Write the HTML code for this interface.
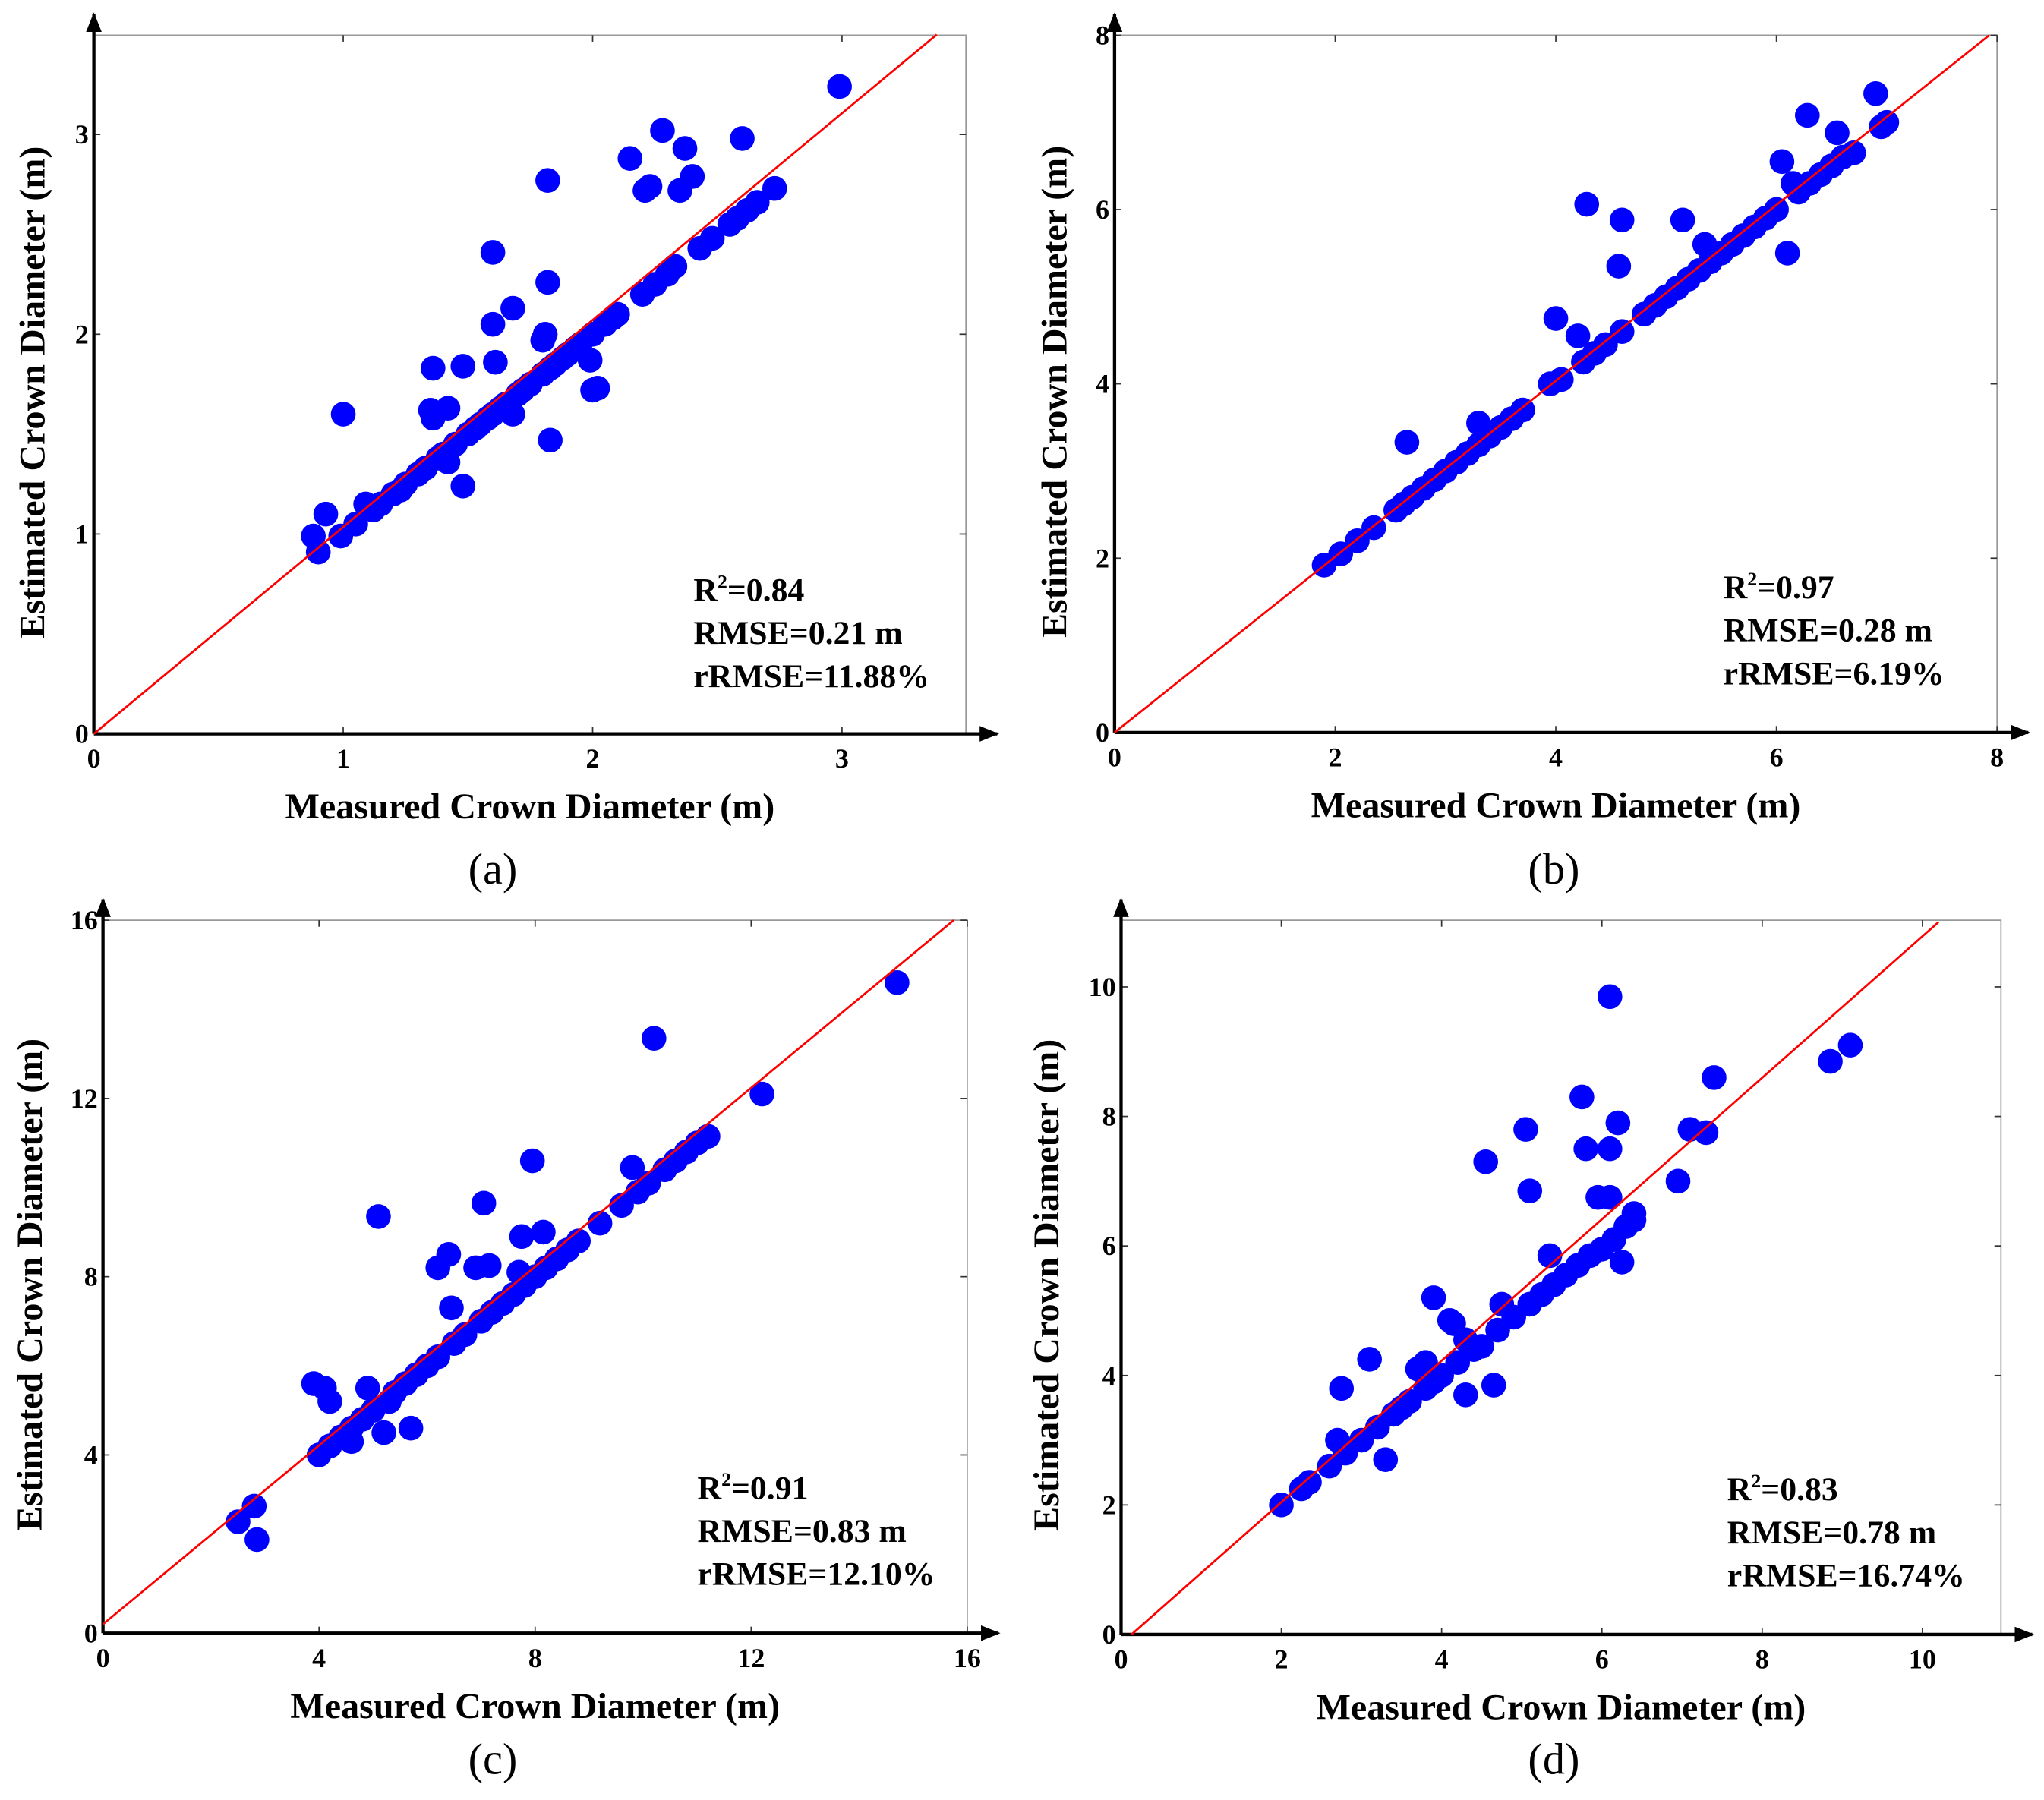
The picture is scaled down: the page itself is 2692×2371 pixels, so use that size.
<!DOCTYPE html>
<html><head><meta charset="utf-8">
<style>
html,body{margin:0;padding:0;background:#fff;}
svg{display:block;}
text{font-family:"Liberation Serif",serif;}
</style></head>
<body>
<svg id="fig" width="2692" height="2371" viewBox="0 0 1568 1381" preserveAspectRatio="none" xmlns="http://www.w3.org/2000/svg">
<defs>
<marker id="arr" viewBox="0 0 10 10" refX="9" refY="5" markerWidth="6" markerHeight="6" orient="auto"><path d="M0,1 L10,5 L0,9 z" fill="#000"/></marker>
</defs>
</svg>
<script>
// Panel (a)
const aX=[0.88,0.9,0.93,0.99,1.0,1.05,1.09,1.12,1.15,1.2,1.23,1.25,1.3,1.33,1.35,1.36,1.36,1.38,1.4,1.42,1.42,1.45,1.48,1.48,1.5,1.53,1.55,1.58,1.6,1.6,1.6,1.61,1.63,1.65,1.68,1.68,1.7,1.72,1.75,1.8,1.81,1.82,1.82,1.83,1.8,1.83,1.85,1.88,1.9,1.93,1.95,2.0,1.99,2.0,2.02,2.05,2.08,2.1,2.15,2.2,2.21,2.23,2.25,2.28,2.3,2.33,2.35,2.37,2.4,2.43,2.48,2.55,2.58,2.6,2.62,2.66,2.73,2.99];
const aY=[0.99,0.91,1.1,0.99,1.6,1.05,1.15,1.12,1.15,1.2,1.22,1.25,1.3,1.33,1.62,1.58,1.83,1.38,1.4,1.36,1.63,1.45,1.84,1.24,1.5,1.53,1.55,1.58,1.6,2.41,2.05,1.86,1.63,1.65,2.13,1.6,1.7,1.72,1.75,1.97,2.0,2.26,2.77,1.47,1.8,1.83,1.85,1.88,1.9,1.93,1.95,2.0,1.87,1.72,1.73,2.05,2.08,2.1,2.88,2.2,2.72,2.74,2.25,3.02,2.3,2.34,2.72,2.93,2.79,2.43,2.48,2.55,2.58,2.98,2.62,2.66,2.73,3.24];
// Panel (b)
const bX=[1.9,2.05,2.2,2.35,2.55,2.62,2.65,2.7,2.8,2.9,3.0,3.1,3.2,3.3,3.3,3.4,3.5,3.6,3.7,3.95,4.0,4.05,4.2,4.25,4.28,4.35,4.45,4.57,4.6,4.6,4.8,4.9,5.0,5.1,5.15,5.2,5.3,5.35,5.4,5.5,5.6,5.7,5.8,5.9,6.0,6.05,6.1,6.15,6.2,6.28,6.3,6.4,6.5,6.55,6.6,6.7,6.9,6.95,7.0];
const bY=[1.92,2.05,2.2,2.35,2.55,2.62,3.33,2.7,2.8,2.9,3.0,3.1,3.2,3.55,3.3,3.4,3.5,3.6,3.7,4.0,4.75,4.05,4.55,4.25,6.06,4.35,4.45,5.35,5.88,4.6,4.8,4.9,5.0,5.1,5.88,5.2,5.3,5.6,5.4,5.5,5.6,5.7,5.8,5.9,6.0,6.55,5.5,6.3,6.2,7.08,6.3,6.4,6.5,6.88,6.6,6.65,7.33,6.95,7.0];
// Panel (c)
const cX=[2.5,2.8,2.85,3.9,4.0,4.1,4.2,4.2,4.4,4.6,4.6,4.8,4.9,5.0,5.1,5.2,5.3,5.4,5.6,5.7,5.8,6.0,6.2,6.2,6.4,6.45,6.5,6.7,6.9,7.0,7.05,7.15,7.2,7.4,7.6,7.75,7.7,7.8,7.95,8.0,8.15,8.2,8.4,8.6,8.8,9.2,9.6,9.8,9.9,10.1,10.2,10.4,10.6,10.8,11.0,11.2,12.2,14.7];
const cY=[2.5,2.85,2.1,5.6,4.0,5.5,5.2,4.2,4.4,4.3,4.6,4.8,5.5,5.0,9.35,4.5,5.2,5.4,5.6,4.6,5.8,6.0,8.2,6.2,8.5,7.3,6.5,6.7,8.2,7.0,9.65,8.25,7.2,7.4,7.6,8.9,8.1,7.8,10.6,8.0,9.0,8.2,8.4,8.6,8.8,9.2,9.6,10.45,9.9,10.1,13.35,10.4,10.6,10.8,11.0,11.15,12.1,14.6];
// Panel (d)
const dX=[2.0,2.25,2.35,2.6,2.7,2.75,2.8,3.0,3.1,3.2,3.3,3.4,3.5,3.6,3.7,3.8,3.8,3.9,3.9,4.0,4.1,4.15,4.2,4.3,4.3,4.4,4.5,4.55,4.65,4.7,4.75,4.9,5.05,5.1,5.1,5.25,5.35,5.4,5.55,5.7,5.75,5.8,5.85,5.95,6.0,6.1,6.1,6.1,6.15,6.2,6.25,6.3,6.4,6.4,6.95,7.1,7.3,7.4,8.85,9.1];
const dY=[2.0,2.25,2.35,2.6,3.0,3.8,2.8,3.0,4.25,3.2,2.7,3.4,3.5,3.6,4.1,4.2,3.8,5.2,3.9,4.0,4.85,4.8,4.2,3.7,4.55,4.4,4.45,7.3,3.85,4.7,5.1,4.9,7.8,6.85,5.1,5.25,5.85,5.4,5.55,5.7,8.3,7.5,5.85,6.75,5.95,9.85,6.75,7.5,6.1,7.9,5.75,6.3,6.5,6.4,7.0,7.8,7.75,8.6,8.85,9.1];

const aTicks=[0,1,2,3], bTicks=[0,2,4,6,8], cTicks=[0,4,8,12,16], dTicks=[0,2,4,6,8,10];
const aLine=[[0,0],[3.38,3.5]], bLine=[[0,0],[7.93,8]], cLine=[[0,0.2],[15.75,16]], dLine=[[0.13,0],[10.2,11]];

const NS="http://www.w3.org/2000/svg";
const svg=document.getElementById('fig');
function el(tag,attrs,parent,txt){const e=document.createElementNS(NS,tag);for(const k in attrs)e.setAttribute(k,attrs[k]);if(txt!==undefined)e.textContent=txt;(parent||svg).appendChild(e);return e;}

function panel(id,cfg){
  const g=el('g',{});
  
  
  const L=cfg.ox,B=cfg.oy,R=cfg.right,T=cfg.top;
  const sx=v=>L+(v-0)*(R-L)/cfg.xmax;
  const sy=v=>B-(v-0)*(B-T)/cfg.ymax;
  const fr=el('path',{d:`M${L},${T}H${R}V${B}`,fill:'none',stroke:'#999','stroke-width':1},g);
  
  
  cfg.ticks.forEach(t=>{
    const x=sx(t), y=sy(t);
    if(t>0&&t<cfg.xmax+1e-9){el('line',{x1:x,y1:B,x2:x,y2:B-5,stroke:'#333','stroke-width':1},g);el('line',{x1:x,y1:T,x2:x,y2:T+5,stroke:'#333','stroke-width':1},g);}
    if(t>0&&t<cfg.ymax+1e-9){el('line',{x1:L,y1:y,x2:L+5,y2:y,stroke:'#333','stroke-width':1},g);el('line',{x1:R,y1:y,x2:R-5,y2:y,stroke:'#333','stroke-width':1},g);}
    if(t<=cfg.xmax+1e-9){const xt=el('text',{x:x,y:B+26,'font-size':21,'font-weight':'bold','text-anchor':'middle'},g,String(t));
      
      }
    if(t<=cfg.ymax+1e-9){const yt=el('text',{x:L-4,y:y+7,'font-size':21,'font-weight':'bold','text-anchor':'end'},g,String(t));
      
      }
  });
  const xa=el('line',{x1:L,y1:B,x2:R+24,y2:B,stroke:'#000','stroke-width':2.5,'marker-end':'url(#arr)'},g);
  
  
  const ya=el('line',{x1:L,y1:B,x2:L,y2:T-16,stroke:'#000','stroke-width':2.5,'marker-end':'url(#arr)'},g);
  
  
  cfg.xs.forEach((v,i)=>{
    const c=el('circle',{cx:sx(v),cy:sy(cfg.ys[i]),r:9.5,fill:'#0000ff'},g);
    
    
  });
  const ln=el('line',{x1:sx(cfg.line[0][0]),y1:sy(cfg.line[0][1]),x2:sx(cfg.line[1][0]),y2:sy(cfg.line[1][1]),stroke:'#ff0000','stroke-width':1.6},g);
  
  
  const st=el('text',{x:cfg.sx,y:cfg.sy,'font-size':25.5,'font-weight':'bold'},g);
  
  
  el('tspan',{},st,'R');
  el('tspan',{'font-size':15,dy:-10},st,'2');
  el('tspan',{dy:10},st,'='+cfg.r2);
  el('tspan',{x:cfg.sx,dy:33},st,'RMSE='+cfg.rmse);
  el('tspan',{x:cfg.sx,dy:33},st,'rRMSE='+cfg.rrmse);
  const xt=el('text',{x:(L+R)/2+cfg.xtdx,y:B+65,'font-size':28,'font-weight':'bold','text-anchor':'middle'},g,'Measured Crown Diameter (m)');
  
  
  const yc=(T+B)/2+6;
  const yt=el('text',{x:0,y:0,'font-size':28,'font-weight':'bold','text-anchor':'middle',transform:`translate(${cfg.ytx},${yc}) rotate(-90)`},g,'Estimated Crown Diameter (m)');
  
  
  const lb=el('text',{x:cfg.lx,y:cfg.ly,'font-size':34,'text-anchor':'middle'},g,'('+id+')');
  
  
}

panel('a',{ox:72,oy:563,right:741,top:27,xmax:3.497,ymax:3.497,ticks:aTicks,xs:aX,ys:aY,line:aLine,r2:'0.84',rmse:'0.21 m',rrmse:'11.88%',sx:532,sy:461,xtdx:0,ytx:34,lx:378,ly:678});
panel('b',{ox:855,oy:562,right:1532,top:27,xmax:8,ymax:8,ticks:bTicks,xs:bX,ys:bY,line:bLine,r2:'0.97',rmse:'0.28 m',rrmse:'6.19%',sx:1322,sy:459,xtdx:0,ytx:818,lx:1192,ly:678});
panel('c',{ox:79,oy:1253,right:742,top:706,xmax:16,ymax:16,ticks:cTicks,xs:cX,ys:cY,line:cLine,r2:'0.91',rmse:'0.83 m',rrmse:'12.10%',sx:535,sy:1150,xtdx:0,ytx:32,lx:378,ly:1361});
panel('d',{ox:860,oy:1254,right:1535,top:706,xmax:10.98,ymax:11.03,ticks:dTicks,xs:dX,ys:dY,line:dLine,r2:'0.83',rmse:'0.78 m',rrmse:'16.74%',sx:1325,sy:1151,xtdx:0,ytx:812,lx:1192,ly:1361});
</script>
</body></html>
